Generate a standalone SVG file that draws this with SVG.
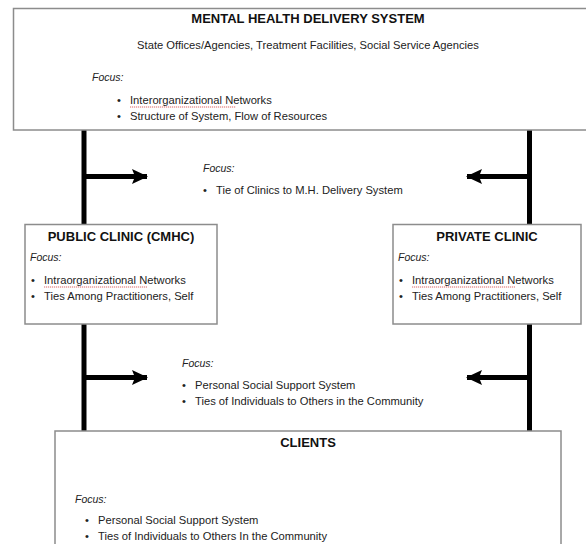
<svg xmlns="http://www.w3.org/2000/svg" width="586" height="544" viewBox="0 0 586 544">
  <style>
    .box { fill: #ffffff; stroke: #8c8c8c; stroke-width: 1.5; }
    .title { font-family: "Liberation Sans", Arial, sans-serif; font-weight: bold; font-size: 13px; fill: #111; text-anchor: middle; }
    .txt { font-family: "Liberation Sans", Arial, sans-serif; font-size: 11.2px; fill: #222; }
    .focus { font-family: "Liberation Sans", Arial, sans-serif; font-size: 10.5px; font-style: italic; fill: #222; }
    .wire { stroke: #000; stroke-width: 5; fill: none; }
    .spell { stroke: #d04040; stroke-width: 0.8; fill: none; stroke-dasharray: 1.2 0.8; }
  </style>
  <defs>
    <marker id="head" viewBox="0 0 16 15" refX="15" refY="7.5" markerUnits="userSpaceOnUse" markerWidth="16" markerHeight="15" orient="auto">
      <path d="M0,0 L16,7.5 L0,15 L3,7.5 Z" fill="#000"/>
    </marker>
  </defs>
  <rect width="586" height="544" fill="#ffffff"/>

  <!-- connectors -->
  <g id="connectors">
    <line class="wire" x1="84" y1="130" x2="84" y2="224"/>
    <line class="wire" x1="529.5" y1="130" x2="529.5" y2="224"/>
    <line class="wire" x1="84" y1="324" x2="84" y2="431"/>
    <line class="wire" x1="529.5" y1="324" x2="529.5" y2="431"/>
    <line class="wire" x1="84" y1="176.5" x2="147" y2="176.5" marker-end="url(#head)"/>
    <line class="wire" x1="529.5" y1="176.5" x2="467" y2="176.5" marker-end="url(#head)"/>
    <line class="wire" x1="84" y1="377.5" x2="147" y2="377.5" marker-end="url(#head)"/>
    <line class="wire" x1="529.5" y1="377.5" x2="467" y2="377.5" marker-end="url(#head)"/>
  </g>

  <!-- top level: delivery system -->
  <g id="mh-system">
    <rect class="box" x="13.5" y="8.5" width="580" height="121.5"/>
    <text class="title" x="308" y="23">MENTAL HEALTH DELIVERY SYSTEM</text>
    <text class="txt" x="308" y="49" text-anchor="middle">State Offices/Agencies, Treatment Facilities, Social Service Agencies</text>
    <text class="focus" x="92" y="81">Focus:</text>
    <text class="txt" x="117" y="104">•</text>
    <text class="txt" x="130" y="104">Interorganizational Networks</text>
    <path class="spell" d="M130,107 H236"/>
    <text class="txt" x="117" y="120">•</text>
    <text class="txt" x="130" y="120">Structure of System, Flow of Resources</text>
  </g>

  <!-- label between system and clinics -->
  <g id="focus-clinic-ties">
    <text class="focus" x="203" y="172">Focus:</text>
    <text class="txt" x="203" y="194">•</text>
    <text class="txt" x="216" y="194">Tie of Clinics to M.H. Delivery System</text>
  </g>

  <!-- public clinic -->
  <g id="public-clinic">
    <rect class="box" x="25" y="224.5" width="192" height="99.5"/>
    <text class="title" x="121" y="241">PUBLIC CLINIC (CMHC)</text>
    <text class="focus" x="30" y="261">Focus:</text>
    <text class="txt" x="31" y="284">•</text>
    <text class="txt" x="44" y="284">Intraorganizational Networks</text>
    <path class="spell" d="M44,287 H147"/>
    <text class="txt" x="31" y="300">•</text>
    <text class="txt" x="44" y="300">Ties Among Practitioners, Self</text>
  </g>

  <!-- private clinic -->
  <g id="private-clinic">
    <rect class="box" x="393" y="224.5" width="188" height="99.5"/>
    <text class="title" x="487" y="241">PRIVATE CLINIC</text>
    <text class="focus" x="398" y="261">Focus:</text>
    <text class="txt" x="399" y="284">•</text>
    <text class="txt" x="412" y="284">Intraorganizational Networks</text>
    <path class="spell" d="M412,287 H515"/>
    <text class="txt" x="399" y="300">•</text>
    <text class="txt" x="412" y="300">Ties Among Practitioners, Self</text>
  </g>

  <!-- label between clinics and clients -->
  <g id="focus-client-ties">
    <text class="focus" x="182" y="367">Focus:</text>
    <text class="txt" x="182" y="389">•</text>
    <text class="txt" x="195" y="389">Personal Social Support System</text>
    <text class="txt" x="182" y="405">•</text>
    <text class="txt" x="195" y="405">Ties of Individuals to Others in the Community</text>
  </g>

  <!-- clients -->
  <g id="clients">
    <rect class="box" x="55" y="431" width="506" height="120"/>
    <text class="title" x="308" y="447">CLIENTS</text>
    <text class="focus" x="75" y="503">Focus:</text>
    <text class="txt" x="85" y="524">•</text>
    <text class="txt" x="98" y="524">Personal Social Support System</text>
    <text class="txt" x="85" y="540">•</text>
    <text class="txt" x="98" y="540">Ties of Individuals to Others In the Community</text>
  </g>
</svg>
